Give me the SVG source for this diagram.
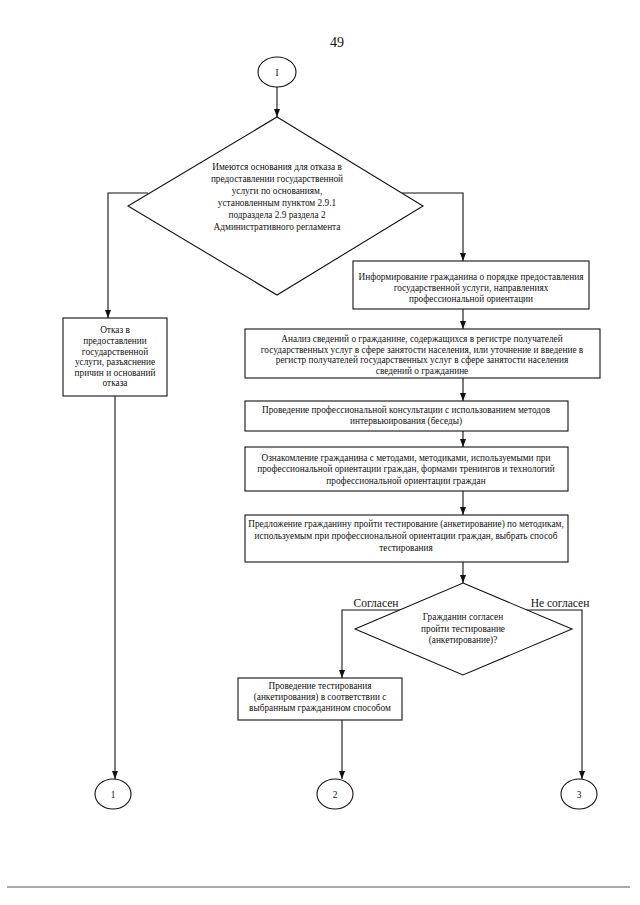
<svg xmlns="http://www.w3.org/2000/svg" width="640" height="905" viewBox="0 0 640 905">
<defs>
<marker id="arr" markerWidth="8" markerHeight="6" refX="8" refY="3" orient="auto" markerUnits="userSpaceOnUse">
<path d="M0,0 L8,3 L0,6 z" fill="#111"/>
</marker>
<style>
.t{font-family:"Liberation Serif","Times New Roman",serif;font-size:9.3px;fill:#111;text-anchor:middle}
.lbl{font-family:"Liberation Serif","Times New Roman",serif;font-size:11.5px;fill:#111;text-anchor:middle}
.n{fill:#fff;stroke:#111;stroke-width:1.1}
.c{fill:none;stroke:#111;stroke-width:1.1;marker-end:url(#arr)}
</style>
</defs>
<rect width="640" height="905" fill="#fff"/>
<text x="337" y="47" font-family="Liberation Serif, serif" font-size="14" text-anchor="middle" fill="#111">49</text>

<g id="connectors">
<path class="c" d="M277,87 V117"/>
<path class="c" d="M148,193 H108 V318"/>
<path class="c" d="M402,193 H463 V261"/>
<path class="c" d="M115,396 V779"/>
<path class="c" d="M463,309 V329"/>
<path class="c" d="M463,378 V401"/>
<path class="c" d="M463,431 V447"/>
<path class="c" d="M463,491 V515"/>
<path class="c" d="M463,562 V583"/>
<path class="c" d="M404,610 H342 V678"/>
<path class="c" d="M521,610 H582 V779"/>
<path class="c" d="M342,720 V779"/>
</g>

<g id="start">
<ellipse class="n" cx="277" cy="72" rx="19" ry="15"/>
<text class="t" x="277" y="75.5">I</text>
</g>

<g id="decision1">
<polygon class="n" points="277,117 423,206 277,295 128,206"/>
<text class="t" x="277" y="170">Имеются основания для отказа в</text>
<text class="t" x="277" y="182">предоставлении государственной</text>
<text class="t" x="277" y="194">услуги по основаниям,</text>
<text class="t" x="277" y="206">установленным пунктом 2.9.1</text>
<text class="t" x="277" y="218">подраздела 2.9 раздела 2</text>
<text class="t" x="277" y="230">Административного регламента</text>
</g>

<g id="refusal">
<rect class="n" x="63" y="318" width="104" height="78"/>
<text class="t" x="115" y="333">Отказ в</text>
<text class="t" x="115" y="344">предоставлении</text>
<text class="t" x="115" y="354.5">государственной</text>
<text class="t" x="115" y="365">услуги, разъяснение</text>
<text class="t" x="115" y="375.5">причин и оснований</text>
<text class="t" x="115" y="386">отказа</text>
</g>

<g id="inform">
<rect class="n" x="353" y="261" width="236" height="48"/>
<text class="t" x="471" y="280">Информирование гражданина о порядке предоставления</text>
<text class="t" x="471" y="291">государственной услуги, направлениях</text>
<text class="t" x="471" y="302">профессиональной ориентации</text>
</g>

<g id="analysis">
<rect class="n" x="245" y="329" width="355" height="49"/>
<text class="t" x="422" y="342">Анализ сведений о гражданине, содержащихся в регистре получателей</text>
<text class="t" x="422" y="352.5">государственных услуг в сфере занятости населения, или уточнение и введение в</text>
<text class="t" x="422" y="363">регистр получателей государственных услуг в сфере занятости населения</text>
<text class="t" x="422" y="373.5">сведений о гражданине</text>
</g>

<g id="consult">
<rect class="n" x="245" y="401" width="323" height="30"/>
<text class="t" x="406" y="413">Проведение профессиональной консультации с использованием методов</text>
<text class="t" x="406" y="424">интервьюирования (беседы)</text>
</g>

<g id="familiarize">
<rect class="n" x="245" y="447" width="323" height="44"/>
<text class="t" x="406" y="461">Ознакомление гражданина с методами, методиками, используемыми при</text>
<text class="t" x="406" y="472">профессиональной ориентации граждан, формами тренингов и технологий</text>
<text class="t" x="406" y="483.5">профессиональной ориентации граждан</text>
</g>

<g id="offer">
<rect class="n" x="245" y="515" width="323" height="47"/>
<text class="t" x="406" y="527">Предложение гражданину пройти тестирование (анкетирование) по методикам,</text>
<text class="t" x="406" y="539">используемым при профессиональной ориентации граждан, выбрать способ</text>
<text class="t" x="406" y="551">тестирования</text>
</g>

<g id="decision2">
<polygon class="n" points="463,583 572,629 463,675 355,629"/>
<text class="t" x="463" y="620">Гражданин согласен</text>
<text class="t" x="463" y="632">пройти тестирование</text>
<text class="t" x="463" y="643">(анкетирование)?</text>
</g>

<g id="labels">
<text class="lbl" x="376" y="607">Согласен</text>
<text class="lbl" x="560" y="607">Не согласен</text>
</g>

<g id="testing">
<rect class="n" x="238" y="678" width="164" height="42"/>
<text class="t" x="320" y="689">Проведение тестирования</text>
<text class="t" x="320" y="700">(анкетирования) в соответствии с</text>
<text class="t" x="320" y="711">выбранным гражданином способом</text>
</g>

<g id="end1">
<ellipse class="n" cx="113" cy="794" rx="18" ry="15"/>
<text class="t" x="113" y="797.5">1</text>
</g>
<g id="end2">
<ellipse class="n" cx="335" cy="794" rx="18" ry="15"/>
<text class="t" x="335" y="797.5">2</text>
</g>
<g id="end3">
<ellipse class="n" cx="579" cy="794" rx="18" ry="15"/>
<text class="t" x="579" y="797.5">3</text>
</g>

<line x1="7" y1="887" x2="630" y2="887" stroke="#555" stroke-width="1"/>
</svg>
